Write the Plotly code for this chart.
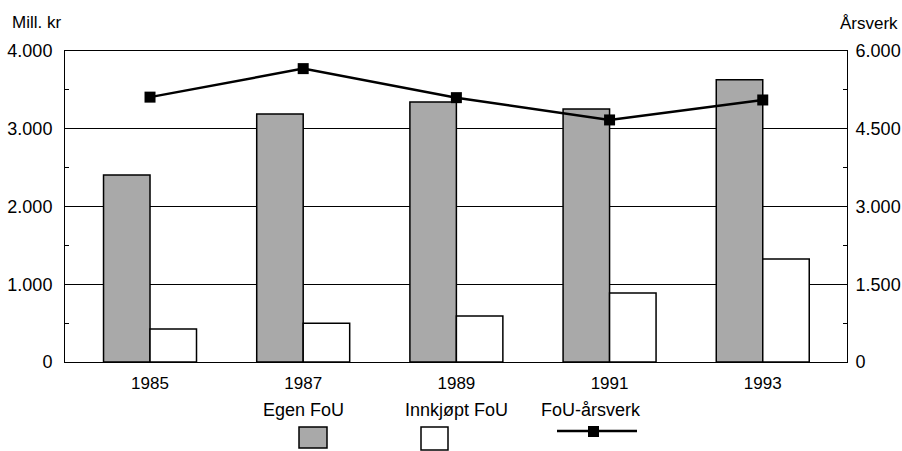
import plotly.graph_objects as go

years = ["1985", "1987", "1989", "1991", "1993"]
egen_fou = [2405, 3190, 3345, 3255, 3630]
innkjopt_fou = [425, 500, 592, 887, 1325]
fou_arsverk = [5110, 5660, 5100, 4670, 5055]

left_ticks = [0, 1000, 2000, 3000, 4000]
left_labels = ["0", "1.000", "2.000", "3.000", "4.000"]
right_ticks = [0, 1500, 3000, 4500, 6000]
right_labels = ["0", "1.500", "3.000", "4.500", "6.000"]

FONT = "Liberation Sans, Arial, sans-serif"
GRAY = "#a9a9a9"

fig = go.Figure()
fig.add_trace(go.Bar(x=years, y=egen_fou, name="Egen FoU",
                     marker=dict(color=GRAY, line=dict(color="black", width=1.5)),
                     offsetgroup="a"))
fig.add_trace(go.Bar(x=years, y=innkjopt_fou, name="Innkjøpt FoU",
                     marker=dict(color="white", line=dict(color="black", width=1.5)),
                     offsetgroup="b"))
fig.add_trace(go.Scatter(x=years, y=fou_arsverk, name="FoU-årsverk", yaxis="y2",
                         mode="lines+markers",
                         line=dict(color="black", width=2.5),
                         marker=dict(symbol="square", size=11, color="black")))

L, R, T, B = 65, 55, 51, 89
W, H = 902, 451
pw, ph = W - L - R, H - T - B

def px(x):
    return (x - L) / pw

def py(y):
    return (H - B - y) / ph

fig.update_layout(
    width=W, height=H,
    margin=dict(l=L, r=R, t=T, b=B, autoexpand=False),
    paper_bgcolor="white", plot_bgcolor="white",
    font=dict(family=FONT, size=18, color="black"),
    showlegend=False,
    barmode="group", bargap=0.393, bargroupgap=0,
    xaxis=dict(type="category", range=[-0.555, 4.55], showline=True, mirror=True,
               linecolor="black", linewidth=1, ticks="", showgrid=False, automargin=False,
               tickfont=dict(size=17), ticklabelstandoff=6),
    yaxis=dict(range=[0, 4000], tickvals=left_ticks, ticktext=left_labels,
               showline=True, linecolor="black", linewidth=1, automargin=False,
               ticks="inside", ticklen=4, tickcolor="black",
               minor=dict(dtick=500, ticks="inside", ticklen=4, tickcolor="black", showgrid=False),
               showgrid=True, gridcolor="black", gridwidth=1, zeroline=False,
               tickfont=dict(size=18), ticklabelstandoff=8),
    yaxis2=dict(range=[0, 6000], tickvals=right_ticks, ticktext=right_labels,
                overlaying="y", side="right", showline=True, linecolor="black", linewidth=1,
                automargin=False,
                ticks="inside", ticklen=4, tickcolor="black",
                minor=dict(dtick=750, ticks="inside", ticklen=4, tickcolor="black", showgrid=False),
                showgrid=False, zeroline=False,
                tickfont=dict(size=18), ticklabelstandoff=4),
)

ann = [
    dict(text="Mill. kr", x=px(10), y=py(22), xanchor="left", yanchor="middle", size=17),
    dict(text="Årsverk", x=px(900), y=py(24), xanchor="right", yanchor="middle", size=17),
    dict(text="Egen FoU", x=px(303), y=py(410), xanchor="center", yanchor="middle", size=18),
    dict(text="Innkjøpt FoU", x=px(456), y=py(410), xanchor="center", yanchor="middle", size=18),
    dict(text="FoU-årsverk", x=px(591), y=py(410), xanchor="center", yanchor="middle", size=18),
]
for a in ann:
    fig.add_annotation(text=a["text"], x=a["x"], y=a["y"], xref="paper", yref="paper",
                       xanchor=a["xanchor"], yanchor=a["yanchor"], showarrow=False,
                       font=dict(family=FONT, size=a["size"], color="black"))

# legend symbols
fig.add_shape(type="rect", xref="paper", yref="paper", x0=px(299), x1=px(327), y0=py(448), y1=py(427),
              fillcolor=GRAY, line=dict(color="black", width=1.5))
fig.add_shape(type="rect", xref="paper", yref="paper", x0=px(421), x1=px(448), y0=py(450), y1=py(427),
              fillcolor="white", line=dict(color="black", width=1.5))
fig.add_shape(type="line", xref="paper", yref="paper", x0=px(557), x1=px(637), y0=py(431), y1=py(431),
              line=dict(color="black", width=2.5))
fig.add_shape(type="rect", xref="paper", yref="paper", x0=px(588), x1=px(599), y0=py(437), y1=py(426),
              fillcolor="black", line=dict(color="black", width=0))

fig.write_html("out.html", config={"displayModeBar": False},
               post_script="document.body.style.margin='0';document.body.style.overflow='hidden';")
